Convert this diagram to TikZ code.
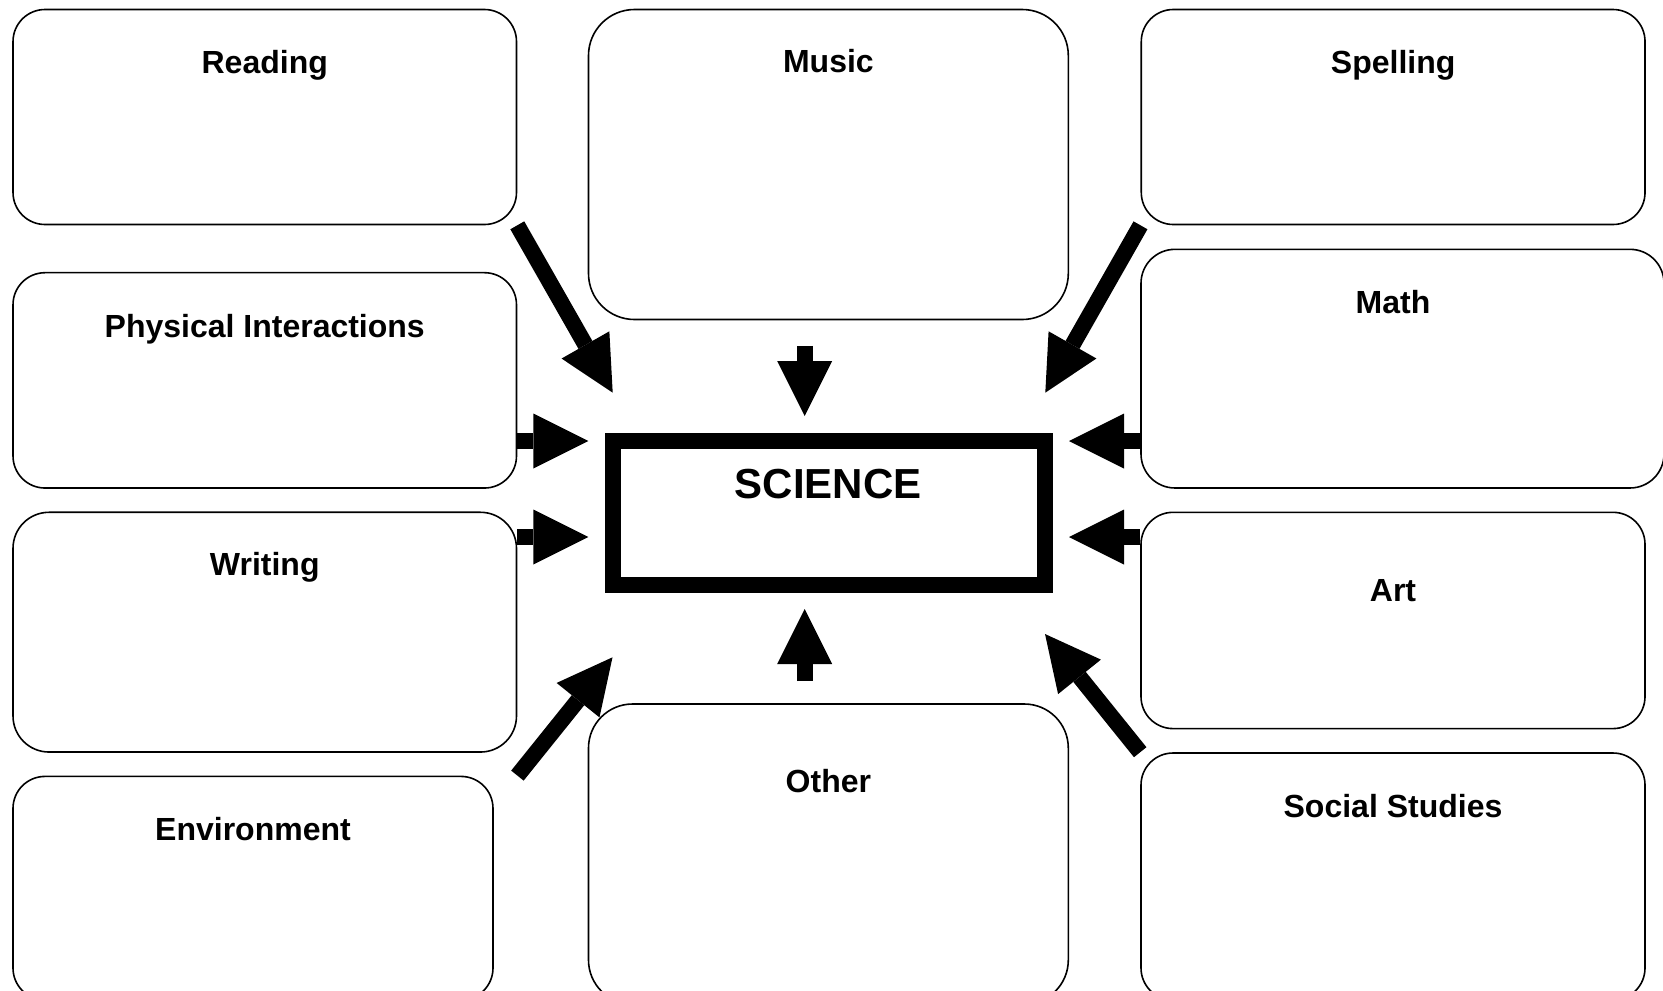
\documentclass[tikz,border=0pt]{standalone}
\usepackage{fontspec}
\setmainfont{Liberation Sans}
\usetikzlibrary{arrows.meta}

\begin{document}
\begin{tikzpicture}[x=0.75pt,y=-0.75pt,
  box/.style={draw,line width=1.2pt,inner sep=0pt,rounded corners=24pt},
  title/.style={anchor=base,font=\fontsize{24}{29}\selectfont\bfseries},
  blk/.style={line width=12pt,-{Triangle[length=41.25pt,width=41.25pt,line width=0pt]}}]
\clip (0,0) rectangle (1663,990);
\fill[white] (0,0) rectangle (1663,990);

% subject boxes
\node[box,minimum width=377.6pt,minimum height=161.25pt] (reading) at (264.75,117) {};
\node[box,minimum width=359.85pt,minimum height=232.5pt,rounded corners=34.5pt] (music) at (828.4,164.5) {};
\node[box,minimum width=377.8pt,minimum height=161.25pt] (spelling) at (1393.15,117) {};
\node[box,minimum width=377.6pt,minimum height=161.5pt] (phys) at (264.75,380.35) {};
\node[box,minimum width=392.25pt,minimum height=179pt,rounded corners=25.5pt] (math) at (1402.5,368.65) {};
\node[box,minimum width=377.6pt,minimum height=179.8pt,rounded corners=27pt] (writing) at (264.75,632.15) {};
\node[box,minimum width=378pt,minimum height=162.2pt] (art) at (1393,620.45) {};
\node[box,minimum width=360pt,minimum height=167.7pt] (env) at (253,888.2) {};
\node[box,minimum width=359.85pt,minimum height=225pt,rounded corners=33pt] (other) at (828.4,854) {};
\node[box,minimum width=378pt,minimum height=185.25pt] (social) at (1393,876.5) {};

\node[title] at (264.75,73) {Reading};
\node[title] at (828.4,72) {Music};
\node[title] at (1393.15,73) {Spelling};
\node[title] at (264.75,337) {Physical Interactions};
\node[title] at (1393,313.5) {Math};
\node[title] at (264.75,575.5) {Writing};
\node[title] at (1393,601.5) {Art};
\node[title] at (253,840.5) {Environment};
\node[title] at (828.4,792) {Other};
\node[title] at (1393,817.5) {Social Studies};

% centre
\node[draw,line width=12pt,inner sep=0pt,minimum width=324pt,minimum height=108pt] (science) at (829,513) {};
\node[anchor=base,font=\fontsize{31.5}{36}\selectfont\bfseries] at (828.3,498.6) {SCIENCE};

% arrow tips
\coordinate (rdtip) at (612.7,392.7);
\coordinate (sptip) at (1045.3,392.7);
\coordinate (mutip) at (804.7,416);
\coordinate (phtip) at (588.3,441);
\coordinate (matip) at (1069,441);
\coordinate (wrtip) at (588.3,537);
\coordinate (artip) at (1069,537);
\coordinate (ottip) at (804.7,609);
\coordinate (entip) at (612.5,657.3);
\coordinate (sotip) at (1045,634);

\draw[blk] (reading.south east) -- (rdtip);
\draw[blk] (spelling.south west) -- (sptip);
\draw[blk] ([yshift=-19.1pt]music.south -| mutip) -- (mutip);
\draw[blk] (phys.east |- phtip) -- (phtip);
\draw[blk] (math.west |- matip) -- (matip);
\draw[blk] (writing.east |- wrtip) -- (wrtip);
\draw[blk] (art.west |- artip) -- (artip);
\draw[blk] ([yshift=16.6pt]other.north -| ottip) -- (ottip);
\draw[blk] ([xshift=17.7pt]env.north east) -- (entip);
\draw[blk] (social.north west) -- (sotip);
\end{tikzpicture}
\end{document}
